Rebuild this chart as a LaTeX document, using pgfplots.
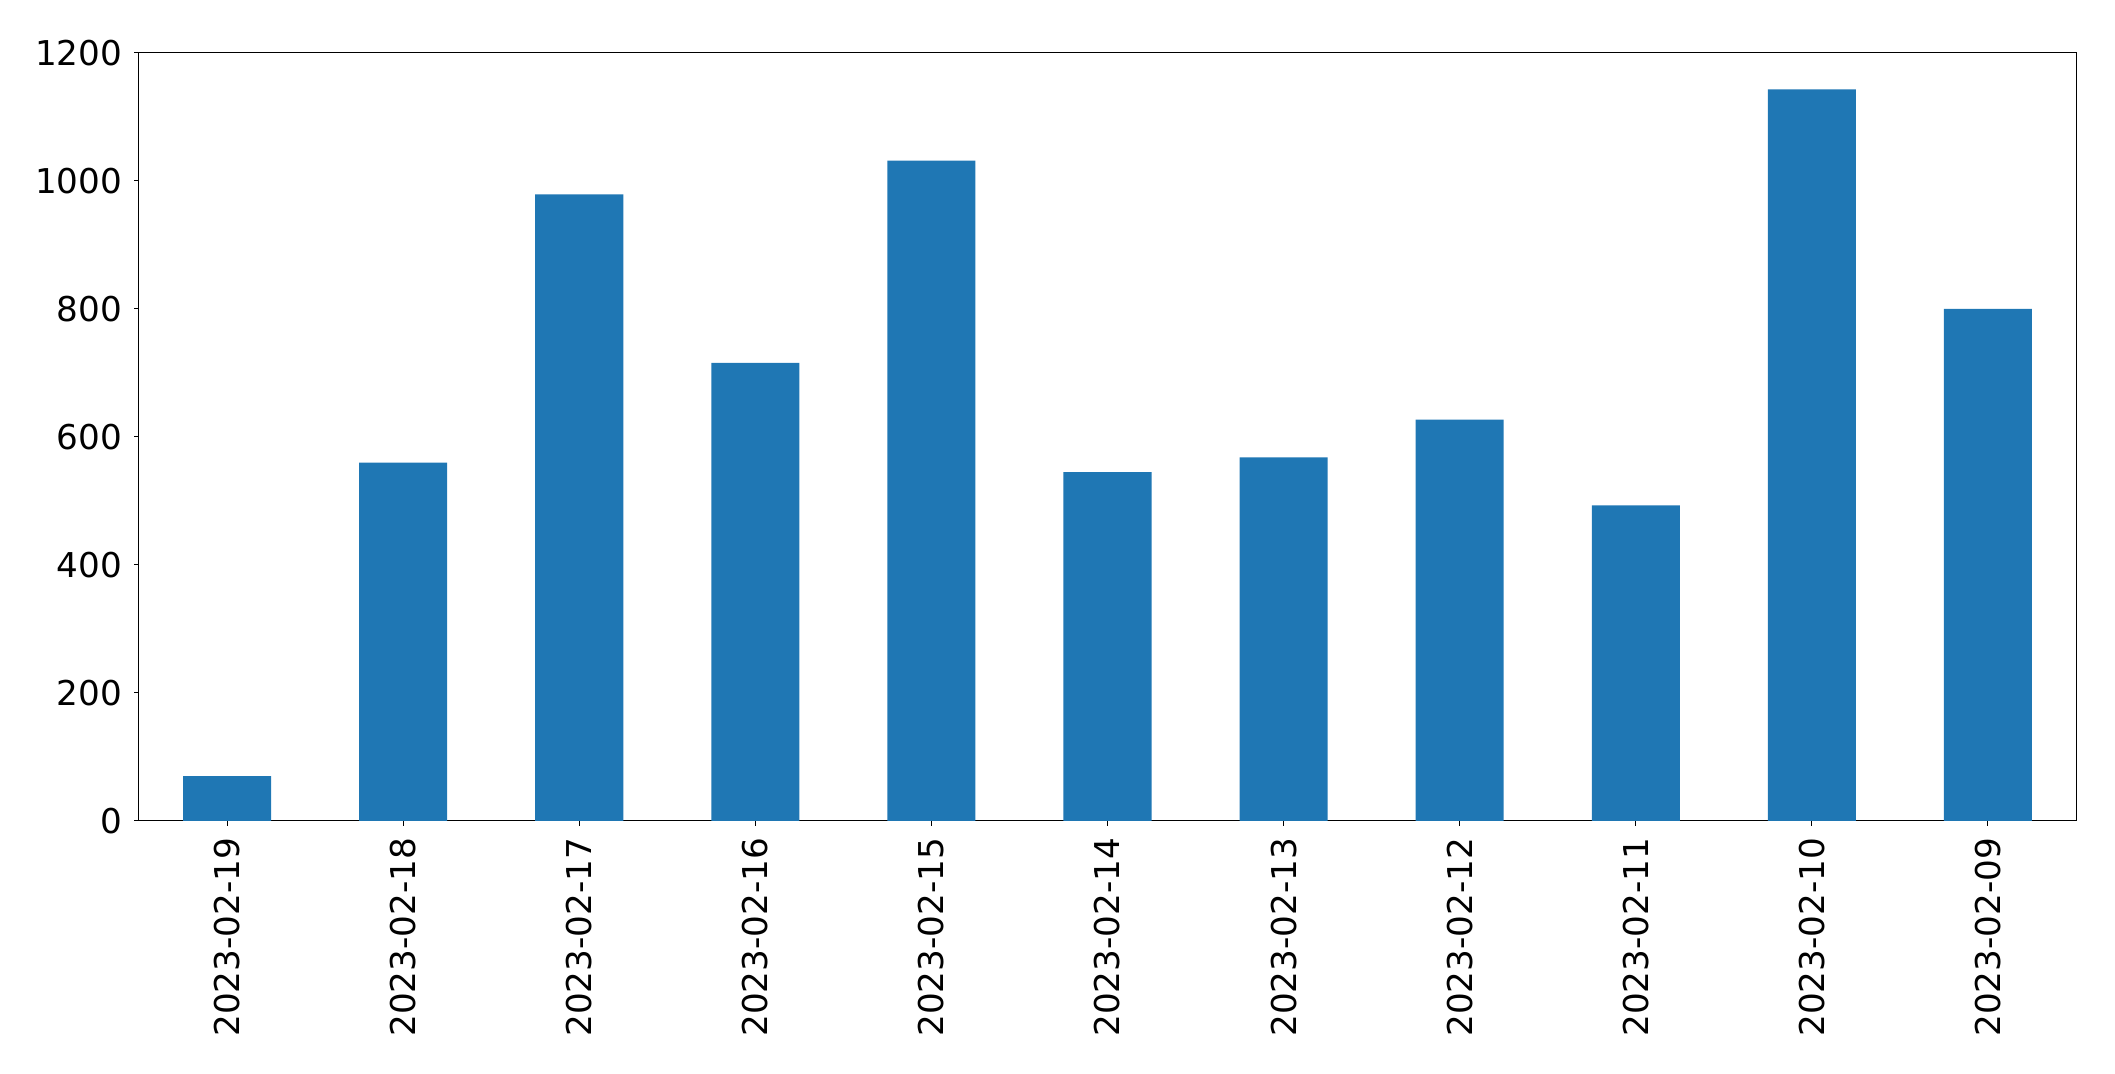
\documentclass[border=0pt]{standalone}
\usepackage{fontspec}
\setmainfont{DejaVu Sans}
\usepackage{pgfplots}
\pgfplotsset{compat=1.18}
\definecolor{barblue}{HTML}{1F77B4}

\begin{document}
\fontsize{17.1}{20}\selectfont
\begin{tikzpicture}
\begin{axis}[
    scale only axis,
    width=968.5pt,
    height=384pt,
    ybar,
    bar width=0.5,
    xmin=-0.5, xmax=10.5,
    ymin=0, ymax=1200,
    ytick={0,200,...,1200},
    xtick=data,
    xticklabels={2023-02-19,2023-02-18,2023-02-17,2023-02-16,2023-02-15,2023-02-14,2023-02-13,2023-02-12,2023-02-11,2023-02-10,2023-02-09},
    xticklabel style={rotate=90, anchor=east},
    tick align=outside,
    tick pos=left,
    major tick length=2.5pt,
    axis line style={line width=0.5pt},
    every tick/.style={black, line width=0.5pt},
    /pgf/number format/assume math mode=true,
    /pgf/number format/1000 sep={},
    ticklabel style={font=\fontsize{17.1}{20}\selectfont},
    enlarge x limits=false,
]
\addplot[fill=barblue, draw=none] coordinates {
    (0,70) (1,560) (2,979) (3,716) (4,1032) (5,545)
    (6,568) (7,627) (8,493) (9,1143) (10,800)
};
\end{axis}
% page margins as in the reference
\path[use as bounding box]
    ([shift={(-69.5pt,-126.5pt)}]current axis.south west)
    rectangle ([shift={(19.5pt,26.5pt)}]current axis.north east);
\end{tikzpicture}
\end{document}
